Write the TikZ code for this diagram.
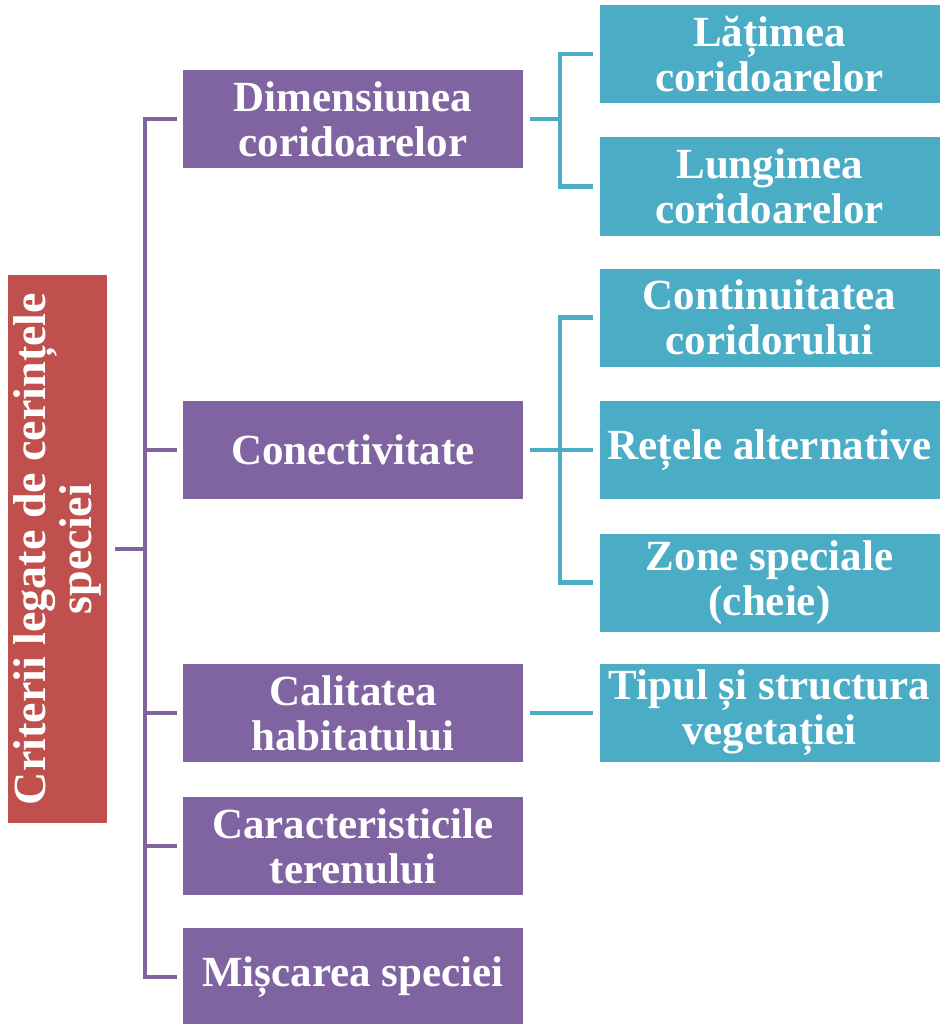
\documentclass[tikz,border=0pt]{standalone}
\usepackage{fontspec}
\setmainfont{Liberation Serif}
\definecolor{rootred}{HTML}{C0504D}
\definecolor{catpurple}{HTML}{8064A2}
\definecolor{subteal}{HTML}{4BACC6}
\begin{document}
\begin{tikzpicture}[x=1pt,y=-1pt,
  box/.style={text=white, font=\bfseries\fontsize{43}{45}\selectfont, align=center,
    inner sep=0pt, minimum width=340pt, minimum height=98pt},
  cat/.style={box, fill=catpurple},
  sub/.style={box, fill=subteal},
  pline/.style={draw=catpurple, line width=4.8pt},
  tline/.style={draw=subteal, line width=4.8pt}]
\useasboundingbox (0,0) rectangle (941,1024);

% root (text turned upright)
\node[box, fill=rootred, rotate=90, minimum width=548pt, minimum height=99pt,
  font=\bfseries\fontsize{46}{46}\selectfont]
  (root) at (57.5,549) {Criterii legate de cerințele\\speciei};

% categories
\node[cat] (dim) at (353,119) {Dimensiunea\\coridoarelor};
\node[cat] (con) at (353,450) {Conectivitate};
\node[cat] (cal) at (353,713) {Calitatea\\habitatului};
\node[cat] (car) at (353,846) {Caracteristicile\\terenului};
\node[cat] (mis) at (353,977) {Mișcarea speciei};

% sub-criteria
\node[sub] (lat) at (769.5,54) {Lățimea\\coridoarelor};
\node[sub] (lun) at (769.5,186.5) {Lungimea\\coridoarelor};
\node[sub] (cnt) at (769.5,317.5) {Continuitatea\\coridorului};
\node[sub] (ret) at (769.5,450) {Rețele alternative};
\node[sub] (zon) at (769.5,582.5) {Zone speciale\\(cheie)};
\node[sub] (tip) at (769.5,713) {Tipul și structura\\vegetației};

% purple trunk
\coordinate (trunk) at (145,549);
\draw[pline, shorten <=8pt] (root.south) -- (trunk);
\draw[pline] ([xshift=-6pt]dim.west) -| (trunk) |- ([xshift=-6pt]mis.west);
\draw[pline, shorten <=6pt] (con.west) -- (trunk |- con.west);
\draw[pline, shorten <=6pt] (cal.west) -- (trunk |- cal.west);
\draw[pline, shorten <=6pt] (car.west) -- (trunk |- car.west);

% teal brackets
\coordinate (ta) at (560,119);
\draw[tline, shorten <=7pt] (dim.east) -- (ta);
\draw[tline] ([xshift=-6pt]lat.west) -| (ta) |- ([xshift=-6pt]lun.west);

\coordinate (tb) at (560,450);
\draw[tline, shorten <=7pt, shorten >=6pt] (con.east) -- (ret.west);
\draw[tline] ([xshift=-6pt]cnt.west) -| (tb) |- ([xshift=-6pt]zon.west);

\draw[tline, shorten <=7pt, shorten >=6pt] (cal.east) -- (tip.west);
\end{tikzpicture}
\end{document}
